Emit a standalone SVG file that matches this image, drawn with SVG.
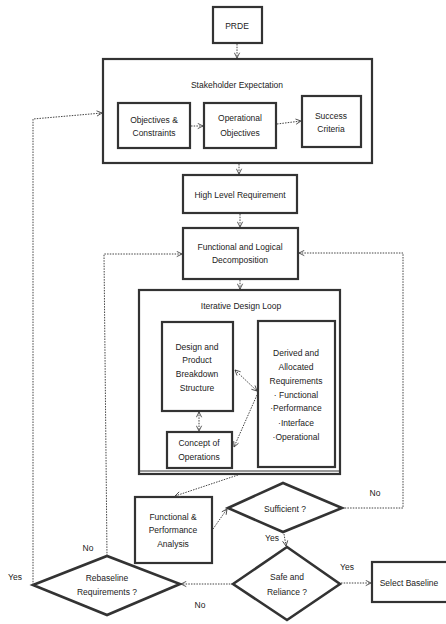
<svg xmlns="http://www.w3.org/2000/svg" width="446" height="624" viewBox="0 0 446 624">
<defs>
<style>
.box{fill:#fff;stroke:#333;stroke-width:2.2}
.dia{fill:#fff;stroke:#333;stroke-width:2.6;stroke-linejoin:miter}
.t{font-family:"Liberation Sans",Arial,sans-serif;font-size:8.5px;fill:#222;text-anchor:middle}
.c{fill:none;stroke:#444;stroke-width:1;stroke-dasharray:1.5 1.2}
</style>
<marker id="ah" viewBox="0 0 8 8" refX="7" refY="4" markerWidth="7" markerHeight="7" orient="auto-start-reverse" markerUnits="userSpaceOnUse">
<path d="M1,1 L7,4 L1,7" fill="none" stroke="#444" stroke-width="1"/>
</marker>
</defs>
<rect width="446" height="624" fill="#fff"/>

<g id="prde"><rect class="box" x="213" y="7" width="49" height="36"/><text class="t" x="237" y="29">PRDE</text></g>

<g id="stakeholder">
<rect class="box" x="103" y="59" width="269" height="104"/>
<text class="t" x="237" y="88">Stakeholder Expectation</text>
</g>
<g id="objectives"><rect class="box" x="118" y="103" width="72" height="45"/><text class="t" x="154" y="123">Objectives &amp;</text><text class="t" x="154" y="136">Constraints</text></g>
<g id="operational"><rect class="box" x="204" y="103" width="72" height="45"/><text class="t" x="240" y="121">Operational</text><text class="t" x="240" y="136">Objectives</text></g>
<g id="success"><rect class="box" x="302" y="96" width="59" height="51"/><text class="t" x="331" y="119">Success</text><text class="t" x="331" y="132">Criteria</text></g>

<g id="hlr"><rect class="box" x="183" y="175" width="114" height="38"/><text class="t" x="240" y="198">High Level Requirement</text></g>

<g id="fld"><rect class="box" x="183" y="228" width="115" height="51"/><text class="t" x="240" y="250">Functional and Logical</text><text class="t" x="240" y="263">Decomposition</text></g>

<g id="loop">
<rect class="box" x="139" y="290" width="201" height="184" stroke-width="2.6"/>
<line x1="140" y1="471" x2="339" y2="471" stroke="#333" stroke-width="1"/>
<text class="t" x="241" y="309">Iterative Design  Loop</text>
</g>
<g id="dpbs"><rect class="box" x="162" y="322" width="71" height="89"/>
<text class="t" x="197" y="350">Design and</text><text class="t" x="197" y="363">Product</text><text class="t" x="197" y="377">Breakdown</text><text class="t" x="197" y="391">Structure</text></g>
<g id="conops"><rect class="box" x="167" y="432" width="65" height="36"/><text class="t" x="199" y="446">Concept of</text><text class="t" x="199" y="460">Operations</text></g>
<g id="derived"><rect class="box" x="258" y="321" width="77" height="146"/>
<text class="t" x="296" y="356">Derived and</text><text class="t" x="296" y="370">Allocated</text><text class="t" x="296" y="384">Requirements</text><text class="t" x="296" y="398">· Functional</text><text class="t" x="296" y="411">·Performance</text><text class="t" x="296" y="426">·Interface</text><text class="t" x="296" y="440">·Operational</text></g>

<g id="fpa"><rect class="box" x="135" y="497" width="77" height="66"/><text class="t" x="173" y="520">Functional &amp;</text><text class="t" x="173" y="533">Performance</text><text class="t" x="173" y="547">Analysis</text></g>

<g id="sufficient"><polygon class="dia" points="228,508 283,483 342,508 283,532"/><text class="t" x="285" y="512">Sufficient ?</text></g>
<g id="safe"><polygon class="dia" points="233,584 287,547 340,584 287,620"/><text class="t" x="287" y="580">Safe and</text><text class="t" x="287" y="595">Reliance ?</text></g>
<g id="rebaseline"><polygon class="dia" points="33,585 107,556 180,584 107,615"/><text class="t" x="107" y="581">Rebaseline</text><text class="t" x="107" y="595">Requirements ?</text></g>
<g id="select"><rect class="box" x="372" y="562" width="76" height="40"/><text class="t" x="409" y="586">Select Baseline</text></g>

<g id="connectors">
<path class="c" d="M237,44 V58" marker-end="url(#ah)"/>
<path class="c" d="M191,126 H203" marker-end="url(#ah)"/>
<path class="c" d="M277,124 L301,121" marker-end="url(#ah)"/>
<path class="c" d="M239,164 V174" marker-end="url(#ah)"/>
<path class="c" d="M240,214 V227" marker-end="url(#ah)"/>
<path class="c" d="M240,280 V289" marker-end="url(#ah)"/>
<path class="c" d="M107,556 L104,254 H182" marker-end="url(#ah)"/>
<path class="c" d="M342,508 H403 V253 H299" marker-end="url(#ah)"/>
<path class="c" d="M33,585 V119 L102,113" marker-end="url(#ah)"/>
<path class="c" d="M199,412 V431" marker-start="url(#ah)" marker-end="url(#ah)"/>
<path class="c" d="M235,370 L257,391" marker-start="url(#ah)" marker-end="url(#ah)"/>
<path class="c" d="M257,395 L234,447" marker-end="url(#ah)"/>
<path class="c" d="M238,475 L175,496" marker-end="url(#ah)"/>
<path class="c" d="M213,529 L227,509" marker-end="url(#ah)"/>
<path class="c" d="M284,534 L286,546" marker-end="url(#ah)"/>
<path class="c" d="M341,583 H371" marker-end="url(#ah)"/>
<path class="c" d="M233,584 H181" marker-end="url(#ah)"/>
</g>

<g id="labels">
<text class="t" x="375" y="496">No</text>
<text class="t" x="272" y="541">Yes</text>
<text class="t" x="347" y="570">Yes</text>
<text class="t" x="200" y="608">No</text>
<text class="t" x="88" y="551">No</text>
<text class="t" x="15" y="580">Yes</text>
</g>
</svg>
